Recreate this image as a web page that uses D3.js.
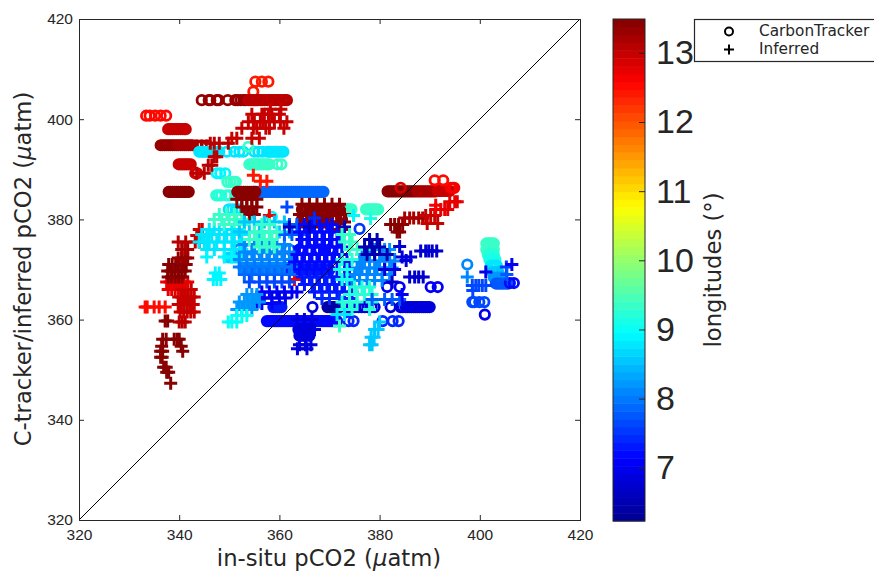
<!DOCTYPE html>
<html>
<head>
<meta charset="utf-8">
<script src="https://cdn.jsdelivr.net/npm/d3@7"></script>
<style>
body { margin: 0; background: #fff; }
svg { display: block; font-family: "DejaVu Sans", sans-serif; }
</style>
</head>
<body>
<svg id="chart" width="874" height="574"></svg>
<script>
// each row is [longitude, model pCO2, in-situ pCO2, in-situ pCO2, ...]
var trackerUpper = [
	[12.4, 407.5, 355.2,356.5,357.8],
	[12.4, 405.5, 354.8],
	[13.3, 403.8, 344.5,345.9,346.2,347.5,347.9,349.7,351.2,351.7,352.3,352.9,353.3],
	[13.1, 403.8, 353.8,354.3,354.8,355.3,355.7,356.2,356.6,357.1,357.6,358.1,358.5],
	[13.1, 403.8, 358.9,359.3,359.8,360.2,360.7,361.1,361.5],
	[12.5, 400.7, 333.4,334.1,335.2,336.3,337.4],
	[12.95, 398, 337.8,338.2,338.6,339,339.4,339.8,340.2,340.6,341,341.3],
	[13.35, 394.8, 336.3,336.7,337.1,337.5,337.9,338.3,338.7,339.1,339.5],
	[13.25, 394.8, 339.9,340.3,340.7,341.1,341.5,341.9,342.3,342.7,343.5,344.5,345.5],
	[12.95, 391, 339.9,340.3,340.7,341.1,341.5,341.9,342.3],
	[13.4, 385.5, 337.9,338.3,338.7,339.1,339.5,339.9,340.3,340.7,341.1,341.5,341.9],
	[12.9, 389.2, 343.2,343.6],
	[8.75, 393.5, 344,344.4,344.8,345.2,345.6,346,346.4,346.8,347.2,347.6,348,349.5,351,352,352.8],
	[8.75, 393.5, 355,355.8,356.6,357.6,358,358.4,358.8,359.2,359.6,360,360.4,360.8],
	[9.35, 394.5, 353.8],
	[9.35, 391, 354,354.4,354.8,355.2,355.6,356,356.4,356.8,357.2,357.6,358,359.6,360.4],
	[8.85, 389.2, 347.5,348.2,349.2],
	[9.3, 387.5, 349.6,350.2,350.8,351.3],
	[9.2, 384.8, 347.4,347.9,348.4,349.4,350,351.2,352],
	[8.8, 382, 349.9,350.6,351.3,352.1]
];
var trackerMiddle = [
	[7.9, 385.5, 355,355.5,356,356.4,356.8,357.2,357.6,358,358.4,358.8,359.2,359.6,360,360.4,360.8,361.2,361.6,362,362.4,362.8,363.2],
	[7.9, 385.5, 363.6,364,364.4,364.8,365.2,365.6,366,366.4,366.8,367.2,367.6,368,368.4,368.8],
	[13.45, 385.5, 351.6,352,352.4,352.8,353.2,353.6,354,354.4,354.8,355.2],
	[9.3, 382, 372,372.4,372.8,373.2,373.6,374,374.4,377.3,377.7,378.1,378.5,378.9,379.3,379.7],
	[13.4, 382, 364.5,365,365.5,366,366.5,367,367.5,368,368.5,369,369.5,370,370.5,371,371.5,372],
	[13.4, 380, 364.5,365.5,366.5,367.5,368.5,369.5,370.5,371.5,372.5],
	[7.5, 378.1, 376],
	[8.9, 380.5, 353.5,358.5],
	[7.3, 362.5, 358.8,359.2,359.6,360,360.4],
	[6.9, 362.5, 366.6],
	[6.45, 362.5, 369.6,370,370.4,370.8,371.2,371.6,372],
	[6.9, 362.5, 373.6,374.4,375,375.8,376.4,377,377.6,378.4,379,382.2,384.2,384.6,385.2,385.6],
	[6.85, 362.5, 386,386.4,386.8,387.2,387.6,388,388.4,388.8,389.2,389.6,390],
	[7.2, 359.7, 357.5,357.9,358.3,358.7,359.1,359.5,359.9,360.3,360.7,361.1,361.5,361.9,362.3,362.7],
	[7.2, 359.7, 363.1,363.5,363.9,364.3,364.7,365.1,365.5,365.9,366.3,366.7,367.1,367.5,367.9,368.3],
	[7.25, 359.7, 368.7,369.1,369.5,369.9,370.3,370.7,371.1,371.5],
	[7.4, 359.7, 373.8,374.8,380.6,382.6,383.8],
	[7.1, 366.5, 381.5,384,390.2,391.6],
	[6.85, 358, 363.8,364.2,364.6,365,365.4,365.8,366.2],
	[6.85, 356.8, 364,364.4,364.8,365.2,365.6,366],
	[8.7, 372.4, 349.8,350.3,350.8,351.3,351.8],
	[8.1, 370.4, 352.8,353.3,353.8,354.3,354.8,355.3,355.8,356.3,356.8,357.3,357.8,358.3,358.8,359.3,359.8,360.3,360.8,361.3],
	[7.3, 370, 362,362.5,363,363.5,364,364.5,365,365.5,366,366.5,367,367.5,368,368.5,369,369.5,370],
	[8.1, 374, 352,354,356,358,360,362],
	[7.2, 374, 364,366,368,370]
];
var trackerEast = [
	[13.4, 385.6, 381.6,382,382.4,382.8,383.2,383.6,384,384.4,384.8,385.2,385.6,386,386.4,386.8,387.2],
	[13.2, 385.6, 387.6,388,388.4,388.8,389.2,389.6,390,390.4,390.8,391.2],
	[12.95, 385.7, 391.6,392,392.4,392.8,393.2,393.6,394],
	[12.6, 386.3, 394.2,394.6,394.9],
	[12.9, 386.3, 384.2],
	[12.5, 387.8, 391,392.7],
	[8.1, 371, 397.5],
	[7.6, 363.5, 398.5,398.9,399.9,400.9],
	[7, 361, 401],
	[9.35, 375.2, 401.3,401.7,402,402.4,402.8],
	[9.3, 374, 401.3,401.7,402,402.4,402.8],
	[9.25, 373, 401.6,402,402.4,402.8],
	[9.1, 372, 401.9,402.3,402.7,403.1],
	[8.8, 370.8, 402.2,402.6,403,403.4],
	[8.5, 369.5, 402.5,402.9,403.3,403.7],
	[8.2, 368.4, 402.8,403.2,403.6,404,404.4],
	[7.8, 367.2, 403.2,403.6,404,404.4,404.8,405.2,405.6],
	[7.2, 367.3, 406,406.8]
];
var inferredWest = [
	[13.4, 347.3, 338.3],
	[13.4, 349.5, 337.5,337.9],
	[13.4, 350.5, 336.9,337.4],
	[13.4, 352.5, 336.3,336.6],
	[13.4, 353.7, 336.3,336.7,340.7],
	[13.4, 354.7, 336.5,340.4],
	[13.4, 356.1, 336.7,339,339.6,340,337.4],
	[13.4, 359.7, 337.2,337.7],
	[13.1, 359.5, 340,340.6,341.2],
	[12.5, 362.5, 333.2,333.6,335,336,337.2],
	[13, 361.5, 340.2,340.9,341.6,342.3,343],
	[12.95, 363, 339.8,340.4,341,341.6,342.2,342.8],
	[13, 364.5, 339.9,340.5,341.1,341.7,342.3,343],
	[12.7, 366, 337.8,338.5,339.2,339.9],
	[13, 366, 340.5,341.1,341.7,342.4],
	[12.8, 367.5, 337.5,338.2,338.9,339.6,340.3,341,341.7],
	[13.45, 368.5, 337.8,338.5,339.2,339.9,340.6],
	[13.45, 369.7, 337.7,338.4,339.1,339.8,340.5,341.2],
	[13.45, 371, 337.9,338.6,339.3,340,340.7,341.4],
	[13.3, 372.3, 339.8,340.5,341.2,341.7],
	[13.2, 374, 340.5,341.1,341.7],
	[13.1, 375.5, 339.8,341.3,343.2,344],
	[13, 376.8, 343.5,344.2],
	[12.95, 378, 344,344.6],
	[13.05, 389.2, 343.5,345],
	[13.05, 390.8, 345.8,346.5],
	[13.05, 392.5, 347,347.5],
	[13.1, 395.2, 346.2,347,348,349.8],
	[13, 396.2, 351.5,350.5,354.5,356],
	[13, 398.2, 352.5,354.8,355.5,357.3,358,360.9],
	[13, 399.5, 353.8,355,356.2,356.8,358,359,360.2,361.5],
	[13, 401, 354.5,356.5,357,357.8,358.5,360],
	[12.95, 402, 358.2,360.3],
	[12.45, 388.8, 354.8],
	[12.45, 387.6, 356.2,357.5]
];
var inferredMiddle = [
	[13.4, 384, 351.5,352.5,353.5,354.5,355.5],
	[13.4, 382.5, 352.5,353.5,354.5,355.5],
	[13.4, 381, 353,354,355],
	[13.45, 383, 364.5,366,367.5,369,370.5,372],
	[13.45, 381, 364,365.5,367,368.5,370,371.5,373],
	[13.45, 379.5, 364.5,366,367.5,369,370.5,372,373],
	[13.45, 378, 370.5,372,373],
	[12.6, 380.8, 358],
	[12.6, 373.4, 361],
	[12.6, 368, 363],
	[8.85, 380.8, 374.8],
	[9.1, 380.2, 378.2],
	// west part of the cloud
	[8.8, 378, 346,347,348,349,350.5,352],
	[9.4, 381, 348,349.5,351],
	[9.35, 380, 347,348.5,350,351.5,352.5],
	[9.3, 379, 349,351,353],
	[8.75, 377, 344.5,345.5,346.5,348,349.5,351,352.5],
	[8.75, 375.5, 344,345,346,347.5,349,350.5,352],
	[8.75, 374, 345.5,347,349,351,352.5],
	[8.85, 372.5, 345.5,349,350.5,352],
	[8.95, 369.3, 347.2,348],
	[8.95, 368, 346.8,347.5,348.3],
	// blue mass in the centre
	[8.1, 375, 353,355,356.5,358,359.5,361],
	[8.1, 373.5, 353,354.5,356,357.5,359,360.5,362],
	[8.05, 372, 352,353.5,355,356.5,358,359.5,361,362.5],
	[8, 370.5, 352,353.5,355,356.5,358,359.5,361,362.5],
	[7.9, 369, 353,354.5,356,357.5,359,360.5,362],
	[7.7, 367.5, 354,356,357.5,359,360.5,362],
	[7.1, 365.5, 356.5,358,359.5,361,362.5,363.5],
	[6.95, 364.3, 357,358.5,360,361.2],
	[7.1, 363.2, 355.5,356.5,358.5],
	[8.5, 379.5, 353,355,357,359,361],
	[8.55, 377.5, 352,354,356,358,360,362],
	[7.75, 379, 362,363.5,365],
	[7.65, 382.5, 361.5],
	[7.75, 377, 361,362.5,364],
	[9.4, 379, 356.5,358],
	[9.4, 377.5, 355,356.5,358,359.5],
	[9.4, 376, 354,355.5,357,358.5],
	[9.35, 374.5, 356,357.5,359],
	[7.2, 379, 365,366.5,368,369.5,370.5],
	[7.15, 377.5, 364,365.5,367,368.5,370,371.5],
	[7.15, 376, 364.5,366,367.5,369,370.5,372],
	[7.2, 374.5, 364,365.5,367,368.5,370,371.5,372.5],
	[7.2, 373, 363.5,365,366.5,368,369.5,371,372.5],
	[7.25, 371.5, 363,364.5,366,367.5,369,370.5,372,373.5],
	[7.25, 370, 364,365.5,367,368.5,370,371.5,373,374],
	[7.3, 368.5, 364.5,366,367.5,369,370.5,372,373.5],
	[7.3, 367, 365,366.5,368,369.5,371,372.5,374],
	[7.35, 365.5, 367,368.5,370,371.5,373,374.5],
	[7.4, 364.2, 368.5,370,372,374],
	[6.6, 378.5, 362,366,373],
	[7.4, 380.3, 367],
	// lower lobes
	[8.2, 365, 353.5,354.5,355.5],
	[8.25, 363.5, 352,353,354,355,356],
	[8.25, 362, 351.5,352.5,353.5,354.5],
	[9, 359.5, 349.8,350.5,351.5],
	[9, 360.8, 351.5,352.5,353.5],
	[6.85, 360, 363.5,365,366.5],
	[6.85, 358, 364,365.5,367],
	[6.85, 355, 364,365.2,366.3],
	[6.85, 354.2, 363.6,365.5],
	// east part of the cloud
	[8.2, 374, 378,379,380,381,382],
	[8.15, 373, 376.5,377.5,379,380.5,382],
	[8.15, 371.7, 376,377,378,379,380,381,382,383],
	[8.15, 370.3, 375.5,376.5,378,379.5,381,382.5],
	[8.15, 369, 375,376,377.5,379,380.5,382],
	[8.15, 367.8, 374.5,376,377.5,379,380.5],
	[9.3, 377, 372.5,374],
	[9.3, 375.5, 373,374.5],
	[9.3, 374, 374,375.5,377],
	[9.2, 372, 372.5,374.5],
	[9.15, 370, 372,373.5],
	[9.1, 368, 372.5,373.5],
	[9.25, 366.5, 375,376.5,378],
	[9.25, 365, 374,375.5,377,378.5],
	[9.25, 363.5, 372.5,374,375.5,378.5],
	[9.25, 362, 373,374.5,378],
	[8.8, 361, 371.5,373],
	[9.3, 358.7, 372],
	[7.8, 364, 381,378.5,384,382.5],
	[8.6, 359.5, 380],
	[8.6, 358, 379,379.7],
	[8.6, 356.5, 378.3,378.9],
	[8.6, 355, 378,378.5],
	[6.5, 376, 378,379.5],
	[6.5, 374.5, 377,378.5,380],
	[6.5, 373, 377.5,379,381.5],
	[6.8, 370, 381,383],
	[6.7, 367.5, 382.5],
	[7.05, 365, 384.5]
];
var inferredEast = [
	[13.4, 377.5, 384,383.5],
	[13.4, 379, 382.2,383,383.8,384.6],
	[13.2, 380.3, 385,386,386.8,387.8,388.6],
	[13, 379.2, 389.5,391.6],
	[12.95, 380.8, 389.2,390.2,391],
	[12.8, 382, 391.2,392.2,393,393.6],
	[12.7, 383.5, 394,395,395.5],
	[12.6, 382.8, 391.2],
	[6.7, 374.6, 384],
	[6.9, 372.5, 384.5,386.2],
	[6.9, 371.8, 385.3],
	[6.75, 373.7, 388.2,389.2,389.8,390.5,391.4],
	[6.7, 368.5, 386,387,387.8,388.7],
	[8.1, 368.5, 397.5],
	[7, 369.5, 401.2],
	[7.6, 366.8, 399.2,398.5,399.8,400.5,401.2],
	[7.6, 365.8, 398.6],
	[7.5, 370.5, 405.3],
	[7.1, 371, 406.4],
	[7.8, 369, 405.4]
];
var legendNames = ["CarbonTracker", "Inferred"];
var xTicks = [320, 340, 360, 380, 400, 420];
var yTicks = [320, 340, 360, 380, 400, 420];
var lonTicks = [7, 8, 9, 10, 11, 12, 13];
var jetStops = ["#00008f", "#0000ff", "#00ffff", "#ffff00", "#ff0000", "#800000"];

var svg = d3.select("#chart");
var ink = "#262626";

var xScale = d3.scaleLinear().domain([320, 420]).range([79, 580]);
var yScale = d3.scaleLinear().domain([320, 420]).range([520, 19]);
var lonScale = d3.scaleLinear().domain([6.23, 13.49]).range([521, 19]);

// jet colormap cut in 64 bands like the matlab colorbar
var jet = d3.scaleLinear().domain([0, 0.125, 0.375, 0.625, 0.875, 1]).range(jetStops);
var bands = d3.range(64);
function colour(lon)
{
	var t = (lon - 6.23) / (13.49 - 6.23);
	var band = Math.min(63, Math.max(0, Math.floor(t * 64)));
	return jet((band + 0.5) / 64);
}

// rows -> one [x, y, lon] per mark
function unpack(rows)
{
	var points = [];
	rows.forEach(function(row) {
		row.slice(2).forEach(function(x) { points.push([x, row[1], row[0]]); });
	});
	return points;
}

svg.append("clipPath").attr("id", "plotClip").append("rect")
	.attr("x", 79).attr("y", 19).attr("width", 501).attr("height", 501);

var plot = svg.append("g").attr("clip-path", "url(#plotClip)");

//CarbonTracker circles first, crosses go over them
plot.selectAll("circle.tracker")
	.data(unpack(trackerUpper.concat(trackerMiddle, trackerEast)))
	.enter().append("circle")
	.attr("class", "tracker")
	.attr("cx", function(d) { return xScale(d[0]); })
	.attr("cy", function(d) { return yScale(d[1]); })
	.attr("r", 4.7)
	.style("fill", "none")
	.style("stroke", function(d) { return colour(d[2]); })
	.style("stroke-width", 2.8);

plot.selectAll("path.inferred")
	.data(unpack(inferredWest.concat(inferredMiddle, inferredEast)))
	.enter().append("path")
	.attr("class", "inferred")
	.attr("transform", function(d) { return "translate(" + xScale(d[0]) + "," + yScale(d[1]) + ")"; })
	.attr("d", "M-6.5,0H6.5M0,-6.5V6.5")
	.style("fill", "none")
	.style("stroke", function(d) { return colour(d[2]); })
	.style("stroke-width", 3);

// the 1:1 line sits on top of the marks
plot.append("line")
	.attr("x1", xScale(320)).attr("y1", yScale(320))
	.attr("x2", xScale(420)).attr("y2", yScale(420))
	.style("stroke", "#000").style("stroke-width", 1);

// axes box
var xAxis = d3.axisBottom(xScale).tickValues(xTicks).tickSize(-5).tickPadding(9);
var yAxis = d3.axisLeft(yScale).tickValues(yTicks).tickSize(-5).tickPadding(6);
var xTop = d3.axisTop(xScale).tickValues(xTicks).tickSize(-5).tickFormat("");
var yRight = d3.axisRight(yScale).tickValues(yTicks).tickSize(-5).tickFormat("");

[
	svg.append("g").attr("transform", "translate(0,520)").call(xAxis),
	svg.append("g").attr("transform", "translate(79,0)").call(yAxis),
	svg.append("g").attr("transform", "translate(0,19)").call(xTop),
	svg.append("g").attr("transform", "translate(580,0)").call(yRight)
].forEach(function(g) {
	g.selectAll("path, line").style("stroke", ink).style("stroke-width", 1);
	g.selectAll("text").style("fill", ink).style("font-size", "15.5px").style("font-family", "inherit");
});

function axisLabel(sel)
{
	sel.style("fill", ink).style("font-size", "22.7px").attr("text-anchor", "middle");
	sel.append("tspan").text(sel.attr("data-head"));
	sel.append("tspan").style("font-style", "italic").text("\u03bc");
	sel.append("tspan").text("atm)");
}

svg.append("text")
	.attr("x", 329).attr("y", 566)
	.attr("data-head", "in-situ pCO2 (")
	.call(axisLabel);

svg.append("text")
	.attr("transform", "translate(31,269) rotate(-90)")
	.attr("data-head", "C-tracker/inferred pCO2 (")
	.call(axisLabel);

// colorbar
var bandHeight = 502 / 64;
svg.selectAll("rect.band")
	.data(bands)
	.enter().append("rect")
	.attr("class", "band")
	.attr("x", 613)
	.attr("y", function(d) { return 521 - (d + 1) * bandHeight; })
	.attr("width", 32)
	.attr("height", bandHeight + 0.5)
	.style("fill", function(d) { return jet((d + 0.5) / 64); });

var lonAxis = d3.axisRight(lonScale).tickValues(lonTicks).tickSize(-6).tickPadding(11).tickFormat(d3.format("d"));
var lonG = svg.append("g").attr("transform", "translate(645,0)").call(lonAxis);
lonG.select(".domain").remove();
lonG.selectAll("line").style("stroke", ink).style("stroke-width", 1);
lonG.selectAll("text").style("fill", ink).style("font-size", "34px").style("font-family", "inherit");

svg.append("rect")
	.attr("x", 613).attr("y", 19).attr("width", 32).attr("height", 502)
	.style("fill", "none").style("stroke", ink).style("stroke-width", 1);

svg.append("text")
	.attr("transform", "translate(721,270) rotate(-90)")
	.attr("text-anchor", "middle")
	.style("fill", ink).style("font-size", "22.7px")
	.text("longitudes (\u00b0)");

// legend
svg.append("rect")
	.attr("x", 694.5).attr("y", 19.5).attr("width", 190).attr("height", 42)
	.style("fill", "#fff").style("stroke", ink).style("stroke-width", 1.2);

svg.append("circle")
	.attr("cx", 729).attr("cy", 31.5).attr("r", 4)
	.style("fill", "none").style("stroke", "#000").style("stroke-width", 2);
svg.append("path")
	.attr("transform", "translate(729,49.5)")
	.attr("d", "M-5,0H5M0,-5V5")
	.style("fill", "none").style("stroke", "#000").style("stroke-width", 2);

svg.selectAll("text.legend")
	.data(legendNames)
	.enter().append("text")
	.attr("class", "legend")
	.attr("x", 759)
	.attr("y", function(d, i) { return 36 + i * 18; })
	.style("fill", ink).style("font-size", "15.3px")
	.text(function(d) { return d; });
</script>
</body>
</html>
